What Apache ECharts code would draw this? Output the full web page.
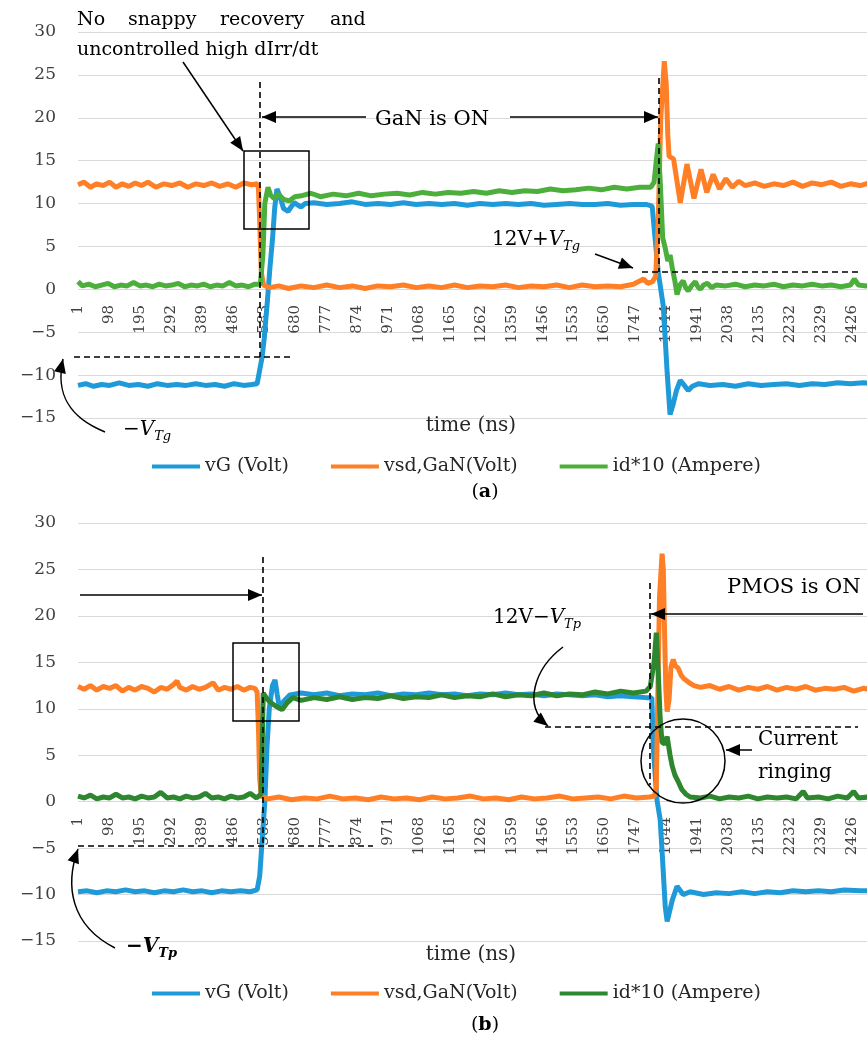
<!DOCTYPE html>
<html>
<head>
<meta charset="utf-8">
<title>GaN switching waveforms</title>
<script src="https://cdn.jsdelivr.net/npm/echarts@6/dist/echarts.min.js"></script>
<style>
  html, body { margin: 0; padding: 0; background: #fff; }
  #chart { width: 867px; height: 1041px; }
</style>
</head>
<body>
<div id="chart"></div>
<script>
// sample index (ns) -> value
var vG_a = [[1,-11.2],[25,-11.0],[50,-11.3],[75,-11.1],[100,-11.2],[130,-10.9],[160,-11.2],[190,-11.1],[220,-11.3],[250,-11.0],[280,-11.2],[310,-11.1],[340,-11.2],[370,-11.0],[400,-11.2],[430,-11.1],[460,-11.3],[490,-11.0],[520,-11.2],[545,-11.1],[562,-11.0],[577,-8.0],[584,-5.8],[594,-1.4],[602,2.5],[610,5.8],[617,9.5],[624,11.7],[632,11.0],[645,9.4],[659,9.1],[668,9.6],[678,10.1],[690,9.8],[700,9.6],[712,10.0],[740,10.1],[780,9.9],[820,10.0],[860,10.2],[900,9.9],[940,10.0],[980,9.9],[1020,10.1],[1060,9.9],[1100,10.0],[1140,9.9],[1180,10.0],[1220,9.8],[1260,10.0],[1300,9.9],[1340,10.0],[1380,9.9],[1420,10.0],[1460,9.8],[1500,9.9],[1540,10.0],[1580,9.9],[1620,9.9],[1660,10.0],[1700,9.8],[1740,9.9],[1780,9.9],[1799,9.7],[1808,6.0],[1818,2.0],[1834,-2.0],[1846,-9.7],[1855,-14.6],[1864,-13.5],[1875,-11.8],[1887,-10.6],[1900,-11.2],[1912,-11.8],[1925,-11.3],[1945,-11.0],[1980,-11.2],[2020,-11.1],[2060,-11.3],[2100,-11.0],[2140,-11.2],[2180,-11.1],[2220,-11.0],[2260,-11.2],[2300,-11.0],[2340,-11.1],[2380,-10.9],[2420,-11.0],[2460,-10.9],[2500,-10.95]];

var vsd_a = [[1,12.2],[20,12.5],[40,11.9],[60,12.3],[80,12.1],[100,12.5],[120,11.9],[140,12.3],[160,12.0],[180,12.4],[200,12.1],[220,12.5],[245,11.9],[270,12.3],[295,12.1],[320,12.4],[345,11.9],[370,12.3],[395,12.1],[420,12.4],[445,12.0],[470,12.3],[495,11.9],[520,12.4],[545,12.2],[562,12.3],[566,11.8],[570,8.0],[575,2.0],[582,0.5],[600,0.2],[630,0.4],[660,0.1],[700,0.4],[740,0.2],[780,0.5],[820,0.2],[860,0.4],[900,0.1],[940,0.4],[980,0.3],[1020,0.5],[1060,0.2],[1100,0.4],[1140,0.2],[1180,0.5],[1220,0.2],[1260,0.4],[1300,0.3],[1340,0.5],[1380,0.2],[1420,0.4],[1460,0.3],[1500,0.5],[1540,0.2],[1580,0.5],[1620,0.3],[1660,0.4],[1700,0.3],[1740,0.6],[1772,1.2],[1785,0.7],[1800,0.9],[1810,1.5],[1818,8.0],[1826,20.0],[1837,26.6],[1843,24.0],[1848,18.0],[1852,15.5],[1866,15.2],[1887,10.1],[1908,14.6],[1930,10.6],[1952,14.0],[1970,11.3],[1990,13.4],[2010,11.7],[2030,12.9],[2050,11.9],[2070,12.6],[2090,12.1],[2120,12.4],[2150,12.0],[2180,12.3],[2210,12.1],[2240,12.5],[2270,12.0],[2300,12.4],[2330,12.2],[2360,12.5],[2390,12.0],[2420,12.3],[2450,12.1],[2480,12.4],[2500,12.2]];

var id_a = [[1,0.9],[15,0.4],[35,0.6],[55,0.3],[75,0.5],[95,0.7],[115,0.3],[135,0.5],[155,0.4],[175,0.8],[195,0.4],[215,0.5],[235,0.3],[255,0.6],[275,0.4],[295,0.5],[315,0.7],[335,0.3],[355,0.5],[375,0.4],[395,0.6],[415,0.3],[435,0.5],[455,0.4],[475,0.8],[495,0.4],[515,0.5],[535,0.3],[555,0.6],[572,0.6],[580,4.0],[586,10.0],[596,11.9],[604,11.0],[615,10.6],[628,11.1],[645,10.5],[662,10.3],[680,10.8],[700,10.9],[730,11.2],[760,10.8],[800,11.1],[840,10.9],[880,11.2],[920,10.9],[960,11.1],[1000,11.2],[1040,11.0],[1080,11.3],[1120,11.1],[1160,11.3],[1200,11.2],[1240,11.4],[1280,11.2],[1320,11.5],[1360,11.3],[1400,11.5],[1440,11.4],[1480,11.7],[1520,11.5],[1560,11.6],[1600,11.8],[1640,11.6],[1680,11.9],[1720,11.7],[1760,11.9],[1795,11.9],[1805,12.5],[1812,15.0],[1818,17.0],[1825,12.0],[1832,6.0],[1840,4.8],[1848,3.3],[1855,4.0],[1862,2.5],[1870,1.0],[1877,-0.6],[1886,0.5],[1896,1.0],[1904,0.2],[1912,-0.2],[1922,0.4],[1934,0.9],[1942,0.3],[1950,0.0],[1960,0.5],[1972,0.7],[1985,0.2],[2000,0.5],[2030,0.4],[2060,0.6],[2090,0.3],[2120,0.5],[2150,0.4],[2180,0.6],[2210,0.3],[2240,0.5],[2270,0.4],[2300,0.6],[2330,0.4],[2360,0.5],[2390,0.3],[2420,0.5],[2432,1.2],[2445,0.5],[2470,0.4],[2500,0.6]];

var vG_b = [[1,-9.7],[30,-9.6],[60,-9.8],[90,-9.6],[120,-9.7],[150,-9.5],[180,-9.7],[210,-9.6],[240,-9.8],[270,-9.6],[300,-9.7],[330,-9.5],[360,-9.7],[390,-9.6],[420,-9.8],[450,-9.6],[480,-9.7],[510,-9.6],[540,-9.7],[562,-9.5],[570,-8.0],[578,-4.0],[586,0.0],[593,6.0],[600,10.0],[610,12.5],[618,13.1],[625,11.5],[633,9.9],[645,10.8],[665,11.5],[700,11.7],[740,11.5],[780,11.7],[820,11.4],[860,11.6],[900,11.5],[940,11.7],[980,11.4],[1020,11.6],[1060,11.5],[1100,11.7],[1140,11.5],[1180,11.6],[1220,11.4],[1260,11.6],[1300,11.5],[1340,11.7],[1380,11.5],[1420,11.6],[1460,11.4],[1500,11.6],[1540,11.5],[1580,11.4],[1620,11.5],[1660,11.3],[1700,11.4],[1740,11.3],[1780,11.2],[1798,11.2],[1803,5.6],[1814,0.2],[1824,-1.9],[1831,-5.9],[1840,-11.3],[1846,-12.9],[1862,-10.6],[1877,-9.1],[1896,-10.0],[1918,-9.7],[1960,-10.0],[2000,-9.8],[2040,-9.9],[2080,-9.7],[2120,-9.9],[2160,-9.7],[2200,-9.8],[2240,-9.6],[2280,-9.7],[2320,-9.6],[2360,-9.7],[2400,-9.5],[2450,-9.6],[2500,-9.55]];

var vsd_b = [[1,12.4],[20,12.1],[40,12.5],[60,12.0],[80,12.4],[100,12.2],[120,12.5],[140,11.9],[160,12.3],[180,12.0],[200,12.4],[220,12.2],[240,11.8],[260,12.3],[280,12.1],[300,12.6],[311,13.0],[320,12.3],[340,12.0],[360,12.4],[380,12.1],[400,12.3],[424,12.8],[440,12.0],[460,12.3],[480,12.1],[500,12.4],[520,12.0],[540,12.3],[555,12.2],[562,11.8],[566,8.0],[570,2.5],[575,0.6],[595,0.3],[630,0.5],[670,0.2],[710,0.4],[750,0.3],[790,0.6],[830,0.3],[870,0.4],[910,0.2],[950,0.5],[990,0.3],[1030,0.4],[1070,0.2],[1110,0.5],[1150,0.3],[1190,0.4],[1230,0.6],[1270,0.3],[1310,0.4],[1350,0.2],[1390,0.5],[1430,0.3],[1470,0.4],[1510,0.6],[1550,0.3],[1590,0.4],[1630,0.5],[1670,0.3],[1710,0.6],[1750,0.4],[1790,0.5],[1806,0.6],[1812,1.5],[1816,10.0],[1822,22.0],[1830,26.7],[1834,25.0],[1838,18.0],[1842,12.0],[1846,9.7],[1852,11.0],[1858,14.5],[1865,15.3],[1872,14.6],[1880,14.4],[1890,13.6],[1900,13.2],[1915,12.8],[1930,12.5],[1950,12.3],[1980,12.5],[2010,12.1],[2040,12.4],[2070,12.0],[2100,12.3],[2130,12.1],[2160,12.4],[2190,12.0],[2220,12.3],[2250,12.1],[2280,12.4],[2310,12.0],[2340,12.2],[2370,12.1],[2400,12.3],[2430,11.9],[2460,12.2],[2500,12.0]];

var id_b = [[1,0.6],[20,0.4],[40,0.7],[60,0.3],[80,0.5],[100,0.4],[120,0.8],[140,0.4],[160,0.5],[180,0.3],[200,0.6],[220,0.4],[240,0.5],[260,1.0],[280,0.4],[300,0.5],[320,0.3],[340,0.6],[360,0.4],[380,0.5],[400,0.9],[420,0.4],[440,0.5],[460,0.3],[480,0.6],[500,0.4],[520,0.5],[540,0.9],[560,0.4],[574,0.8],[578,6.0],[581,11.7],[590,11.2],[603,10.7],[620,10.3],[640,9.9],[655,10.6],[674,11.2],[700,10.9],[740,11.2],[780,11.0],[820,11.3],[860,11.0],[900,11.2],[940,11.1],[980,11.4],[1020,11.1],[1060,11.3],[1100,11.2],[1140,11.5],[1180,11.2],[1220,11.4],[1260,11.3],[1300,11.6],[1340,11.3],[1380,11.5],[1420,11.4],[1460,11.7],[1500,11.4],[1540,11.6],[1580,11.5],[1620,11.8],[1660,11.6],[1700,11.9],[1740,11.7],[1780,11.9],[1793,12.4],[1805,15.0],[1812,18.2],[1818,14.0],[1824,9.0],[1830,6.4],[1838,6.2],[1846,7.0],[1855,5.0],[1862,3.8],[1871,2.8],[1880,2.2],[1892,1.3],[1905,0.8],[1918,0.5],[1950,0.4],[1980,0.6],[2010,0.3],[2040,0.5],[2070,0.4],[2100,0.6],[2130,0.3],[2160,0.5],[2190,0.4],[2220,0.5],[2250,0.3],[2272,1.1],[2285,0.4],[2320,0.5],[2350,0.3],[2380,0.6],[2410,0.4],[2430,1.1],[2445,0.4],[2475,0.5],[2500,0.4]];

var seriesNames = ['vG (Volt)', 'vsd,GaN(Volt)', 'id*10 (Ampere)'];
var yTicks = { min: -15, max: 30, step: 5 };
var nSamples = 2500;
var labelEvery = 97;

var timeCats = [];
for (var t = 1; t <= nSamples; t++) timeCats.push(String(t));

var BLUE = '#1f9ad8', ORANGE = '#ff7f27', GREEN_A = '#4caf3c', GREEN_B = '#2e872e';
var FONT = '"DejaVu Serif", "Liberation Serif", serif';
var LABEL = '#404040';

function toIdx(arr) {
    return arr.map(function (p) { return [p[0] - 1, p[1]]; });
}

// x axis sits on the zero line: shifted up from the grid bottom by an offset
function xAxisFor(gi, offset, gap) {
    return {
        type: 'category',
        gridIndex: gi,
        data: timeCats,
        boundaryGap: false,
        position: 'bottom',
        offset: offset,
        axisLine: { show: false, onZero: false },
        axisTick: { show: false },
        splitLine: { show: false },
        axisLabel: {
            interval: labelEvery - 1,
            rotate: 90,
            margin: 15,
            fontFamily: FONT,
            fontSize: 15,
            color: LABEL
        },
        name: 'time (ns)',
        nameLocation: 'middle',
        nameGap: gap,
        nameTextStyle: { fontFamily: FONT, fontSize: 20, color: '#262626', padding: [0, 12, 0, 0] }
    };
}

function yAxisFor(gi) {
    return {
        type: 'value',
        gridIndex: gi,
        min: yTicks.min,
        max: yTicks.max,
        interval: yTicks.step,
        axisLine: { show: false },
        axisTick: { show: false },
        splitLine: { lineStyle: { color: '#d9d9d9', width: 1 } },
        axisLabel: {
            margin: 22,
            fontFamily: FONT,
            fontSize: 17,
            color: LABEL,
            formatter: function (v) { return String(v).replace('-', '\u2212'); }
        }
    };
}

function line(name, data, gi, color) {
    return {
        name: name,
        type: 'line',
        xAxisIndex: gi,
        yAxisIndex: gi,
        data: toIdx(data),
        showSymbol: false,
        lineStyle: { width: 5, color: color },
        itemStyle: { color: color },
        silent: true
    };
}

function legendFor(top, green) {
    var cols = [BLUE, ORANGE, green];
    return {
        left: 147,
        top: top,
        icon: 'rect',
        itemWidth: 48,
        itemHeight: 4,
        itemGap: 42,
        textStyle: { fontFamily: FONT, fontSize: 19, color: '#262626' },
        data: seriesNames.map(function (n, i) {
            return { name: n, itemStyle: { color: cols[i] } };
        })
    };
}

// annotation helpers (pixel space)
var K = '#000';
function seg(x1, y1, x2, y2, dashed) {
    return {
        type: 'line', z: 100,
        shape: { x1: x1, y1: y1, x2: x2, y2: y2 },
        style: { stroke: K, lineWidth: dashed ? 1.6 : 1.5, lineDash: dashed ? [6, 4] : null }
    };
}
function head(fx, fy, tx, ty) {
    var a = Math.atan2(ty - fy, tx - fx), L = 14, W = 6;
    var bx = tx - L * Math.cos(a), by = ty - L * Math.sin(a);
    return {
        type: 'polygon', z: 100,
        shape: { points: [[tx, ty], [bx + W * Math.sin(a), by - W * Math.cos(a)], [bx - W * Math.sin(a), by + W * Math.cos(a)]] },
        style: { fill: K }
    };
}
function arrow(x1, y1, x2, y2) {
    return [seg(x1, y1, x2, y2, false), head(x1, y1, x2, y2)];
}
function curvedArrow(x1, y1, c1x, c1y, c2x, c2y, x2, y2) {
    return [{
        type: 'bezierCurve', z: 100,
        shape: { x1: x1, y1: y1, cpx1: c1x, cpy1: c1y, cpx2: c2x, cpy2: c2y, x2: x2, y2: y2 },
        style: { stroke: K, lineWidth: 1.5, fill: null }
    }, head(c2x, c2y, x2, y2)];
}
function box(x, y, w, h) {
    return { type: 'rect', z: 100, shape: { x: x, y: y, width: w, height: h }, style: { fill: null, stroke: K, lineWidth: 1.5 } };
}
function txt(s, x, y, size, extra) {
    var st = { text: s, x: x, y: y, font: size + 'px ' + FONT, fill: K, textVerticalAlign: 'middle', textAlign: 'left' };
    if (extra) for (var k in extra) st[k] = extra[k];
    return { type: 'text', z: 100, style: st };
}
function subRich(size, bold) {
    return {
        n: { fontFamily: FONT, fontSize: size, fontWeight: bold ? 'bold' : 'normal', lineHeight: 26, verticalAlign: 'middle' },
        i: { fontFamily: FONT, fontSize: size, fontStyle: 'italic', fontWeight: bold ? 'bold' : 'normal', lineHeight: 26 },
        s: { fontFamily: FONT, fontSize: 13, fontStyle: 'italic', fontWeight: bold ? 'bold' : 'normal', lineHeight: 13, verticalAlign: 'bottom' }
    };
}

var graphics = [].concat(
    // panel (a)
    txt('No', 77, 20, 19), txt('snappy', 128, 20, 19), txt('recovery', 220, 20, 19), txt('and', 330, 20, 19),
    txt('uncontrolled high dIrr/dt', 77, 50, 19),
    arrow(183, 62, 243, 151),
    box(244, 151, 65, 78),
    seg(260, 82, 260, 357, true),
    seg(74, 357, 292, 357, true),
    txt('GaN is ON', 375, 120, 21),
    arrow(366, 117, 262, 117),
    arrow(510, 117, 658, 117),
    seg(659, 78, 659, 272, true),
    seg(642, 272, 858, 272, true),
    txt('{n|12V+}{i|V}{s|Tg}', 492, 240, 20, { rich: subRich(20, false) }),
    arrow(595, 254, 633, 268),
    txt('{n|\u2212}{i|V}{s|Tg}', 123, 430, 20, { rich: subRich(20, false) }),
    curvedArrow(105, 432, 70, 418, 55, 395, 63, 359),
    txt('({b|a})', 485, 492, 19, { textAlign: 'center', rich: { b: { fontFamily: FONT, fontSize: 19, fontWeight: 'bold' } } }),
    // panel (b)
    arrow(80, 595, 262, 595),
    seg(263, 557, 263, 847, true),
    seg(78, 846, 373, 846, true),
    txt('{n|\u2212}{i|V}{s|Tp}', 126, 947, 20, { rich: subRich(20, true) }),
    curvedArrow(115, 948, 70, 925, 65, 885, 78, 849),
    box(233, 643, 66, 78),
    seg(650, 583, 650, 785, true),
    txt('PMOS is ON', 727, 588, 21),
    arrow(863, 614, 651, 614),
    txt('{n|12V\u2212}{i|V}{s|Tp}', 493, 618, 20, { rich: subRich(20, false) }),
    curvedArrow(563, 647, 535, 668, 522, 705, 548, 726),
    seg(545, 727, 858, 727, true),
    { type: 'circle', z: 100, shape: { cx: 683, cy: 761, r: 42 }, style: { fill: null, stroke: K, lineWidth: 1.5 } },
    txt('Current', 758, 740, 20),
    txt('ringing', 758, 773, 20),
    arrow(752, 750, 726, 750),
    txt('({b|b})', 485, 1025, 19, { textAlign: 'center', rich: { b: { fontFamily: FONT, fontSize: 19, fontWeight: 'bold' } } })
);

var myChart = echarts.init(document.getElementById('chart'), null, { renderer: 'canvas' });

var option = {
    animation: false,
    backgroundColor: '#fff',
    grid: [
        { left: 78, top: 32, width: 798, height: 386, outerBoundsMode: 'none', containLabel: false },
        { left: 78, top: 523, width: 798, height: 418, outerBoundsMode: 'none', containLabel: false }
    ],
    // grid a: zero at 290 (bottom 418) ; grid b: zero at 802 (bottom 941)
    xAxis: [xAxisFor(0, -128, 126), xAxisFor(1, -139, 143)],
    yAxis: [yAxisFor(0), yAxisFor(1)],
    legend: [legendFor(452, GREEN_A), legendFor(979, GREEN_B)],
    series: [
        line(seriesNames[0], vG_a, 0, BLUE),
        line(seriesNames[1], vsd_a, 0, ORANGE),
        line(seriesNames[2], id_a, 0, GREEN_A),
        line(seriesNames[0], vG_b, 1, BLUE),
        line(seriesNames[1], vsd_b, 1, ORANGE),
        line(seriesNames[2], id_b, 1, GREEN_B)
    ],
    graphic: graphics
};

myChart.setOption(option);
</script>
</body>
</html>
